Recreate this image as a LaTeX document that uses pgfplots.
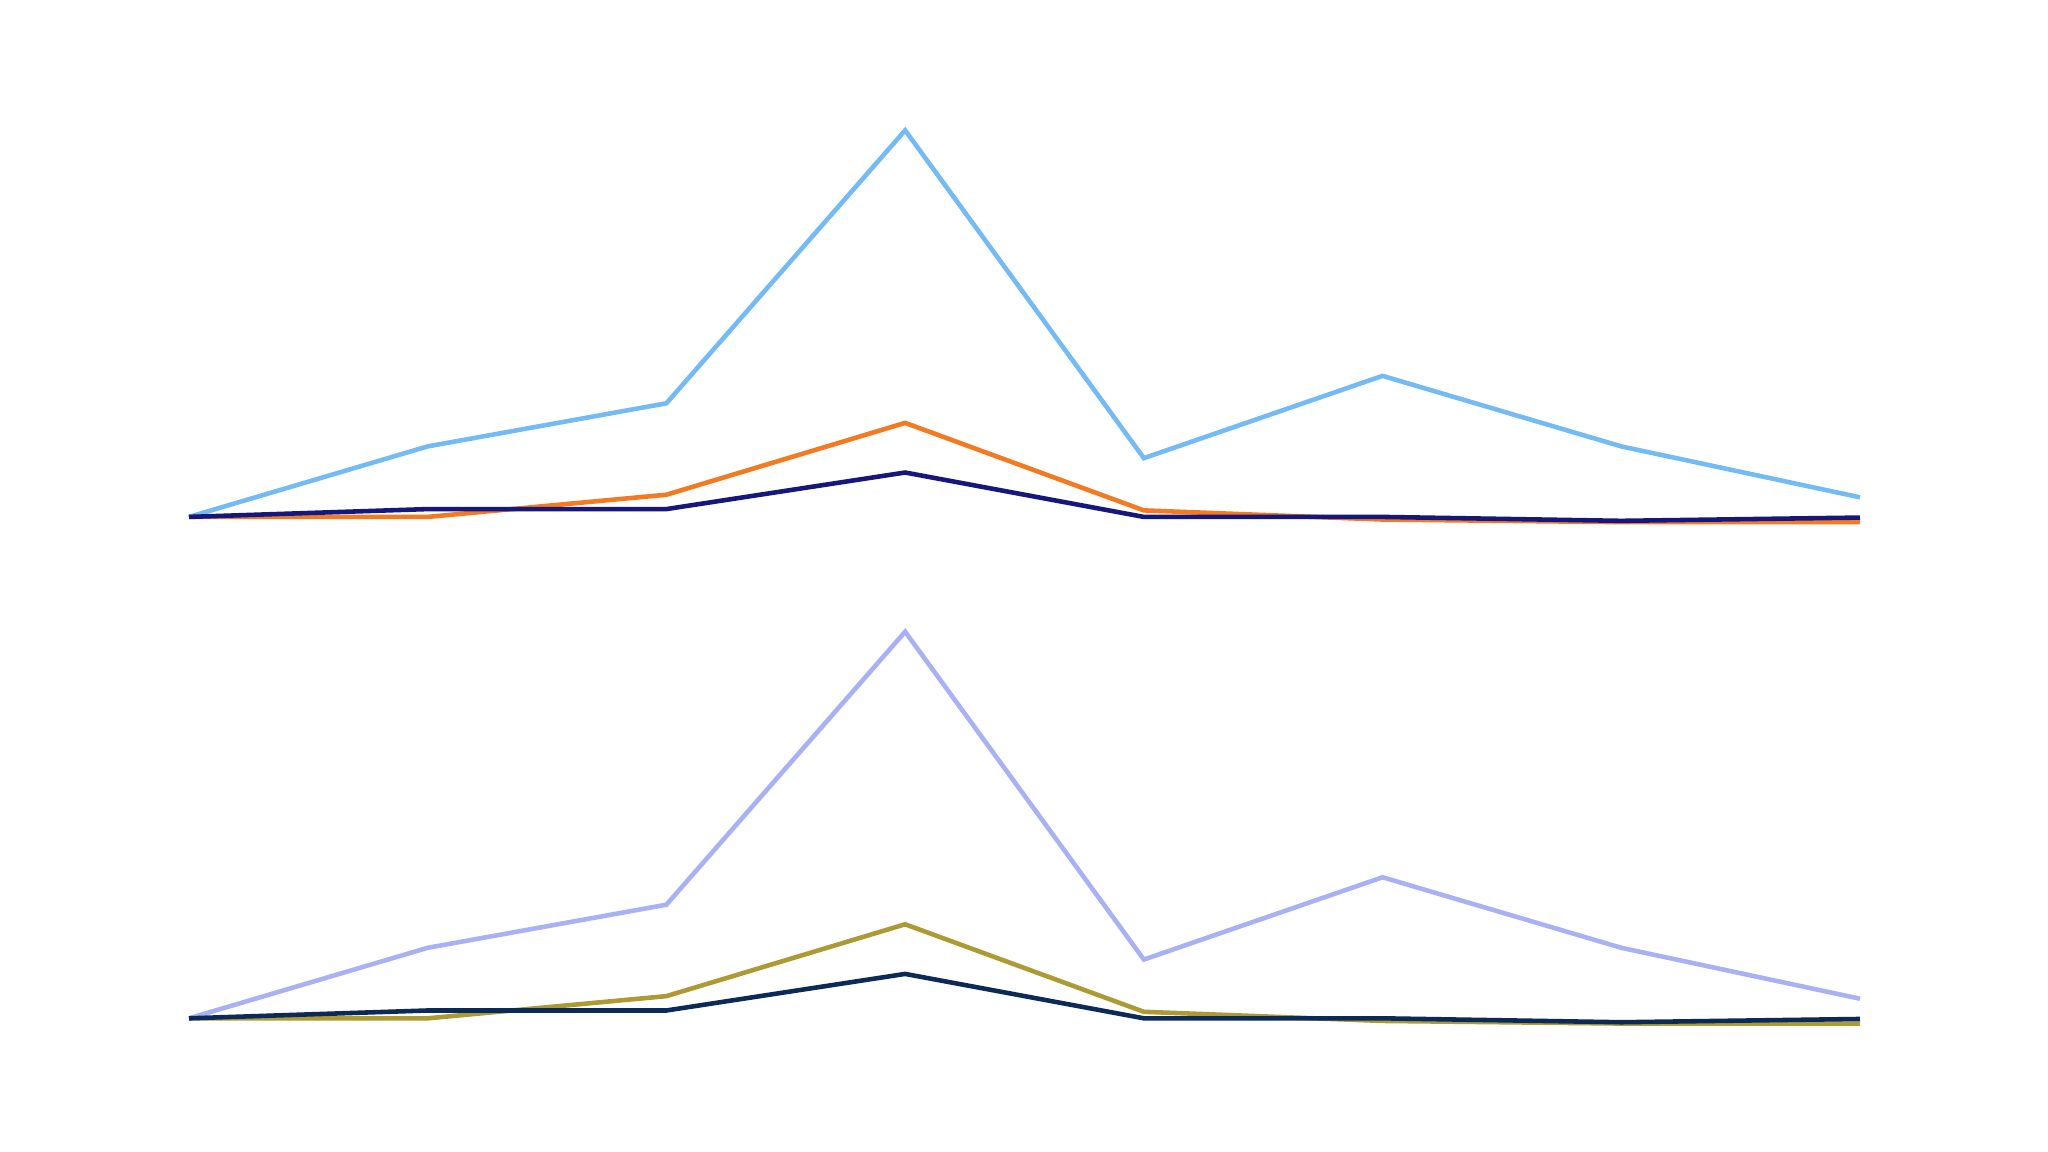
\documentclass[border=0pt]{standalone}
\usepackage{pgfplots}
\pgfplotsset{compat=1.18}
\definecolor{lblue}{HTML}{74BAF4}
\definecolor{orng}{HTML}{F47A22}
\definecolor{navy}{HTML}{15177C}
\definecolor{lpurp}{HTML}{A8B1F4}
\definecolor{olive}{HTML}{AE9A34}
\definecolor{dnavy}{HTML}{0B2A58}
\pgfplotsset{
  panel/.style={
    hide axis, scale only axis, width=16.71cm, height=4.049cm,
    xmin=0, xmax=7, ymin=-10, ymax=300, clip=false, anchor=south west,
  },
  every axis plot/.append style={line width=1.3pt, line join=miter, no markers},
}
\begin{document}
\begin{tikzpicture}
\useasboundingbox (0,0) rectangle (20.48cm,11.52cm);
\begin{axis}[panel, at={(1.89cm,6.22cm)}]
\addplot[lblue] coordinates {(0,0) (1,54) (2,87) (3,296) (4,45) (5,108) (6,54) (7,15)};
\addplot[orng] coordinates {(0,0) (1,0) (2,17) (3,72) (4,5) (5,-2) (6,-4) (7,-4)};
\addplot[navy] coordinates {(0,0) (1,6) (2,6) (3,34) (4,0) (5,0) (6,-3) (7,-0.5)};
\end{axis}
\begin{axis}[panel, at={(1.89cm,1.206cm)}]
\addplot[lpurp] coordinates {(0,0) (1,54) (2,87) (3,296) (4,45) (5,108) (6,54) (7,15)};
\addplot[olive] coordinates {(0,0) (1,0) (2,17) (3,72) (4,5) (5,-2) (6,-4) (7,-4)};
\addplot[dnavy] coordinates {(0,0) (1,6) (2,6) (3,34) (4,0) (5,0) (6,-3) (7,-0.5)};
\end{axis}
\end{tikzpicture}
\end{document}
